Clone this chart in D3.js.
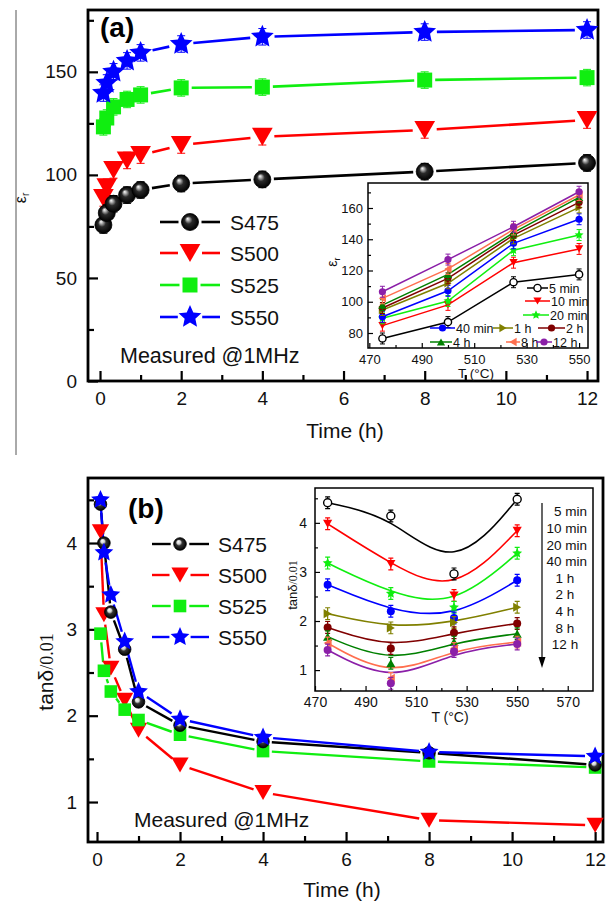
<!DOCTYPE html>
<html><head><meta charset="utf-8">
<script src="https://cdn.jsdelivr.net/npm/d3@7/dist/d3.min.js"></script>
<style>body{margin:0;background:#fff}svg{display:block}</style>
</head><body><svg id="c" width="612" height="901"></svg>
<script>
// ---------------- DATA ----------------
const timesH = [5/60, 10/60, 20/60, 40/60, 1, 2, 4, 8, 12];
const sampleNames = ["S475", "S500", "S525", "S550"];
const epsS475 = [75.7, 81.5, 86.0, 90.2, 92.7, 95.8, 97.8, 101.6, 105.8];
const epsS500 = [88.8, 94.0, 102.4, 107.0, 109.6, 114.5, 118.5, 121.8, 126.6];
const epsS525 = [123.3, 127.6, 133.0, 136.6, 138.8, 142.2, 142.6, 146.0, 147.2];
const epsS550 = [139.7, 144.6, 150.0, 155.3, 159.2, 163.5, 167.0, 169.3, 170.3];
const tanS475 = [4.45, 4.00, 3.20, 2.77, 2.16, 1.89, 1.70, 1.57, 1.43];
const tanS500 = [4.13, 3.17, 2.55, 2.18, 1.83, 1.43, 1.11, 0.79, 0.73];
const tanS525 = [2.95, 2.52, 2.28, 2.07, 1.95, 1.78, 1.59, 1.47, 1.40];
const tanS550 = [4.50, 3.89, 3.40, 2.86, 2.28, 1.96, 1.75, 1.58, 1.53];
const tempsC = [475, 500, 525, 550];
const durLabels = ["5 min", "10 min", "20 min", "40 min", "1 h", "2 h", "4 h", "8 h", "12 h"];
const eps5min = [76.5, 87.0, 112.5, 117.5];
const eps10min = [84.7, 98.0, 125.0, 133.8];
const eps20min = [89.4, 100.5, 133.0, 142.7];
const eps40min = [90.4, 107.0, 137.4, 152.8];
const eps1h = [94.7, 111.8, 140.6, 160.4];
const eps2h = [96.0, 115.0, 142.7, 163.6];
const eps4h = [97.8, 117.5, 144.2, 166.8];
const eps8h = [102.2, 121.0, 146.3, 168.3];
const eps12h = [106.4, 127.0, 148.0, 170.4];
const tan5min = [4.41, 4.14, 2.96, 4.48];
const tan10min = [3.98, 3.16, 2.52, 3.84];
const tan20min = [3.18, 2.56, 2.28, 3.38];
const tan40min = [2.74, 2.20, 2.06, 2.83];
const tan1h = [2.15, 1.86, 1.97, 2.28];
const tan2h = [1.87, 1.44, 1.76, 1.95];
const tan4h = [1.68, 1.14, 1.57, 1.74];
const tan8h = [1.55, 0.83, 1.44, 1.57];
const tan12h = [1.41, 0.73, 1.38, 1.53];
const epsErr = 4, insetEpsErr = 3.5, insetTanErr = 0.12;
const timeTicks = [0, 2, 4, 6, 8, 10, 12];
const epsTicks = [0, 50, 100, 150];
const tanTicks = [1, 2, 3, 4];
const insetEpsTicks = [80, 100, 120, 140, 160];
const insetATTicks = [470, 490, 510, 530, 550];
const insetBTTicks = [470, 490, 510, 530, 550, 570];

// ---------------- STYLE ----------------
const FONT = "'Liberation Sans', Arial, sans-serif";
const SERIF = "'Liberation Serif', 'Times New Roman', serif";
const mainColors = ["#000000", "#ff0000", "#10ee10", "#0000ff"];
const mainShapes = ["ball", "down", "square", "star"];
const insetColors = ["#000000", "#ff0000", "#10ee10", "#0000ff", "#808000", "#800000", "#008000", "#ff6f4f", "#8b1fa8"];
const insetShapes = ["open", "down", "star", "circle", "right", "circle", "up", "left", "circle"];
const drawOrder = [1, 2, 0, 3];

const svg = d3.select("#c");
const defs = svg.append("defs");
function ballGrad(id, stops) {
  const g = defs.append("radialGradient").attr("id", id).attr("cx", 0.5).attr("cy", 0.5).attr("r", 0.5).attr("fx", 0.35).attr("fy", 0.3);
  stops.forEach(s => g.append("stop").attr("offset", s[0]).attr("stop-color", s[1]));
}
ballGrad("ballA", [[0, "#ffffff"], [0.18, "#b0b0b0"], [0.45, "#2a2a2a"], [1, "#000"]]);
ballGrad("ballB", [[0, "#ffffff"], [0.3, "#d0d0d0"], [0.5, "#333"], [1, "#000"]]);

function starPath(R, ri) {
  const p = [];
  for (let k = 0; k < 10; k++) {
    const a = -Math.PI / 2 + k * Math.PI / 5, r = k % 2 === 0 ? R : ri;
    p.push((r * Math.cos(a)).toFixed(2) + "," + (r * Math.sin(a)).toFixed(2));
  }
  return "M" + p.join("L") + "Z";
}
function shapePath(type, s) {
  const w = s * 1.15, h = s;
  switch (type) {
    case "ball": case "circle": case "open":
      return `M${s},0A${s},${s} 0 1,1 ${-s},0A${s},${s} 0 1,1 ${s},0Z`;
    case "square": return `M${-s},${-s}H${s}V${s}H${-s}Z`;
    case "down": return `M${-w},${-h}L${w},${-h}L0,${h}Z`;
    case "up": return `M${-w},${h}L${w},${h}L0,${-h}Z`;
    case "right": return `M${-h},${-w}L${-h},${w}L${h},0Z`;
    case "left": return `M${h},${-w}L${h},${w}L${-h},0Z`;
    case "star": return starPath(s * 1.3, s * 1.3 * 0.47);
  }
}
function drawMarker(g, type, color, x, y, s, ballId) {
  const p = g.append("path").attr("d", shapePath(type, s)).attr("transform", `translate(${x},${y})`);
  if (type === "ball") p.attr("fill", `url(#${ballId})`).attr("stroke", "#000").attr("stroke-width", 0.8);
  else if (type === "open") p.attr("fill", "#fff").attr("stroke", color).attr("stroke-width", 1.4);
  else p.attr("fill", color);
  return p;
}
function gapped(g, pts, gap, color, width) {
  for (let i = 0; i < pts.length - 1; i++) {
    const [x0, y0] = pts[i], [x1, y1] = pts[i + 1];
    const dx = x1 - x0, dy = y1 - y0, L = Math.hypot(dx, dy);
    if (L <= 2 * gap) continue;
    const ux = dx / L, uy = dy / L;
    g.append("line").attr("x1", x0 + ux * gap).attr("y1", y0 + uy * gap)
      .attr("x2", x1 - ux * gap).attr("y2", y1 - uy * gap)
      .attr("stroke", color).attr("stroke-width", width);
  }
}
function axes(g, x, y, c) {
  const b = y.range()[0], l = x.range()[0];
  const list = [];
  list.push(g.append("g").attr("transform", `translate(0,${b})`)
    .call(d3.axisBottom(x).tickValues(c.xMajor).tickSize(-c.maj).tickPadding(c.xPad).tickFormat(d3.format("d"))));
  list.push(g.append("g").attr("transform", `translate(0,${b})`)
    .call(d3.axisBottom(x).tickValues(c.xMinor).tickSize(-c.min).tickFormat("")));
  list.push(g.append("g").attr("transform", `translate(${l},0)`)
    .call(d3.axisLeft(y).tickValues(c.yMajor).tickSize(-c.maj).tickPadding(c.yPad).tickFormat(d3.format("d"))));
  list.push(g.append("g").attr("transform", `translate(${l},0)`)
    .call(d3.axisLeft(y).tickValues(c.yMinor).tickSize(-c.min).tickFormat("")));
  list.forEach(a => {
    a.select(".domain").remove();
    a.selectAll("line").attr("stroke", "#000").attr("stroke-width", c.tw);
    a.selectAll("text").attr("font-size", c.fs).attr("font-family", FONT).attr("fill", "#111");
  });
  g.append("rect").attr("x", l).attr("y", y.range()[1])
    .attr("width", x.range()[1] - l).attr("height", b - y.range()[1])
    .attr("fill", "none").attr("stroke", "#000").attr("stroke-width", c.fw);
}
function frameBg(g, x, y) {
  g.append("rect").attr("x", x.range()[0]).attr("y", y.range()[1])
    .attr("width", x.range()[1] - x.range()[0]).attr("height", y.range()[0] - y.range()[1]).attr("fill", "#fff");
}

// page border line
svg.append("line").attr("x1", 16).attr("x2", 16).attr("y1", 10).attr("y2", 455).attr("stroke", "#555").attr("stroke-width", 1);

// ---------------- PANEL A ----------------
const ax = d3.scaleLinear().domain([-0.296, 12.27]).range([88, 598]);
const ay = d3.scaleLinear().domain([0, 180]).range([381, 10]);
const gA = svg.append("g");
axes(gA, ax, ay, {xMajor: timeTicks, xMinor: [1, 3, 5, 7, 9, 11], yMajor: epsTicks, yMinor: [25, 75, 125, 175],
  maj: 10, min: 6, xPad: 11, yPad: 11, fs: 19, tw: 2.2, fw: 2.8});
const epsSeries = [epsS475, epsS500, epsS525, epsS550];
const sizeA = [8.5, 9, 7.5, 9.2];
drawOrder.forEach(i => {
  const pts = timesH.map((t, k) => [ax(t), ay(epsSeries[i][k])]);
  gapped(gA, pts, sizeA[i] + 3, mainColors[i], 2.6);
});
drawOrder.forEach(i => {
  timesH.forEach((t, k) => {
    const v = epsSeries[i][k], X = ax(t);
    gA.append("path").attr("d", `M${X - 4},${ay(v + epsErr)}H${X + 4}M${X},${ay(v + epsErr)}V${ay(v - epsErr)}M${X - 4},${ay(v - epsErr)}H${X + 4}`)
      .attr("stroke", mainColors[i]).attr("stroke-width", 1).attr("fill", "none");
  });
  timesH.forEach((t, k) => drawMarker(gA, mainShapes[i], mainColors[i], ax(t), ay(epsSeries[i][k]), sizeA[i], "ballA"));
});
gA.append("text").attr("x", 100).attr("y", 37).attr("font-family", FONT).attr("font-weight", "bold").attr("font-size", 28).text("(a)");
const legAY = [222, 253, 285, 317];
sampleNames.forEach((n, i) => {
  const y = legAY[i], g = sizeA[i] + 3;
  gA.append("line").attr("x1", 160).attr("x2", 190 - g).attr("y1", y).attr("y2", y).attr("stroke", mainColors[i]).attr("stroke-width", 2.6);
  gA.append("line").attr("x1", 190 + g).attr("x2", 220).attr("y1", y).attr("y2", y).attr("stroke", mainColors[i]).attr("stroke-width", 2.6);
  drawMarker(gA, mainShapes[i], mainColors[i], 190, y, sizeA[i], "ballA");
  gA.append("text").attr("x", 230).attr("y", y + 7.5).attr("font-family", FONT).attr("font-size", 21).attr("fill", "#111").text(n);
});
gA.append("text").attr("x", 120).attr("y", 363).attr("font-family", FONT).attr("font-size", 21.5).attr("fill", "#111").text("Measured @1MHz");
gA.append("text").attr("x", 345).attr("y", 438).attr("text-anchor", "middle").attr("font-family", FONT).attr("font-size", 21).attr("fill", "#111").text("Time (h)");
const epsLab = gA.append("text").attr("transform", "translate(26,198) rotate(-90)").attr("text-anchor", "middle").attr("font-family", FONT).attr("font-size", 16).attr("fill", "#111");
epsLab.append("tspan").text("ε");
epsLab.append("tspan").attr("font-size", 10).attr("dy", 3).text("r");

// ---------------- INSET A ----------------
const iax = d3.scaleLinear().domain([469.5, 553.4]).range([368, 588]);
const iay = d3.scaleLinear().domain([70.4, 176]).range([348, 183]);
const gIA = svg.append("g");
frameBg(gIA, iax, iay);
axes(gIA, iax, iay, {xMajor: insetATTicks, xMinor: [480, 500, 520, 540], yMajor: insetEpsTicks, yMinor: [90, 110, 130, 150, 170],
  maj: 5, min: 3, xPad: 7, yPad: 5, fs: 13, tw: 1.2, fw: 1.5});
const epsByDur = [eps5min, eps10min, eps20min, eps40min, eps1h, eps2h, eps4h, eps8h, eps12h];
const lineGen = (xs, ys) => d3.line().x((d, k) => xs(tempsC[k])).y(d => ys(d));
epsByDur.forEach((arr, i) => {
  gIA.append("path").attr("d", lineGen(iax, iay)(arr)).attr("fill", "none").attr("stroke", insetColors[i]).attr("stroke-width", 1.5);
});
epsByDur.forEach((arr, i) => {
  arr.forEach((v, k) => {
    const X = iax(tempsC[k]);
    gIA.append("path").attr("d", `M${X - 2.5},${iay(v + insetEpsErr)}H${X + 2.5}M${X},${iay(v + insetEpsErr)}V${iay(v - insetEpsErr)}M${X - 2.5},${iay(v - insetEpsErr)}H${X + 2.5}`)
      .attr("stroke", insetColors[i]).attr("stroke-width", 1).attr("fill", "none");
    drawMarker(gIA, insetShapes[i], insetColors[i], X, iay(v), 3.6);
  });
});
const legIA = [[527, 548, 288], [525, 550, 301], [523, 549, 315], [430, 455, 328], [493, 513, 328], [538, 565, 328], [430, 452, 342], [506, 520, 342], [536, 552, 342]];
durLabels.forEach((lab, i) => {
  const [x0, x1, y] = legIA[i];
  gIA.append("line").attr("x1", x0).attr("x2", x1).attr("y1", y).attr("y2", y).attr("stroke", insetColors[i]).attr("stroke-width", 1.5);
  drawMarker(gIA, insetShapes[i], insetColors[i], (x0 + x1) / 2, y, 3.6);
  gIA.append("text").attr("x", x1 + 1).attr("y", y + 4.5).attr("font-family", FONT).attr("font-size", 12.5).attr("fill", "#111").text(lab);
});
gIA.append("text").attr("x", 476).attr("y", 378).attr("text-anchor", "middle").attr("font-family", FONT).attr("font-size", 13.5).attr("fill", "#111").text("T (°C)");
const iaLab = gIA.append("text").attr("transform", "translate(337,262) rotate(-90)").attr("text-anchor", "middle").attr("font-family", FONT).attr("font-size", 14).attr("fill", "#111");
iaLab.append("tspan").text("ε");
iaLab.append("tspan").attr("font-size", 9).attr("dy", 3).text("r");

// ---------------- PANEL B ----------------
const bx = d3.scaleLinear().domain([-0.217, 12.19]).range([88, 603]);
const by = d3.scaleLinear().domain([0.537, 4.753]).range([842, 478]);
const gB = svg.append("g");
axes(gB, bx, by, {xMajor: timeTicks, xMinor: [1, 3, 5, 7, 9, 11], yMajor: tanTicks, yMinor: [1.5, 2.5, 3.5, 4.5],
  maj: 10, min: 6, xPad: 11, yPad: 11, fs: 19, tw: 2.2, fw: 2.8});
const tanSeries = [tanS475, tanS500, tanS525, tanS550];
const sizeB = [6.3, 7.5, 6.3, 7.6];
drawOrder.forEach(i => {
  const pts = timesH.map((t, k) => [bx(t), by(tanSeries[i][k])]);
  gapped(gB, pts, sizeB[i] + 2.5, mainColors[i], 2.4);
});
drawOrder.forEach(i => {
  timesH.forEach((t, k) => drawMarker(gB, mainShapes[i], mainColors[i], bx(t), by(tanSeries[i][k]), sizeB[i], "ballB"));
});
gB.append("text").attr("x", 128).attr("y", 518).attr("font-family", FONT).attr("font-weight", "bold").attr("font-size", 28).text("(b)");
const legBY = [544, 575, 606, 637];
sampleNames.forEach((n, i) => {
  const y = legBY[i], g = sizeB[i] + 3;
  gB.append("line").attr("x1", 152).attr("x2", 180 - g).attr("y1", y).attr("y2", y).attr("stroke", mainColors[i]).attr("stroke-width", 2.4);
  gB.append("line").attr("x1", 180 + g).attr("x2", 209).attr("y1", y).attr("y2", y).attr("stroke", mainColors[i]).attr("stroke-width", 2.4);
  drawMarker(gB, mainShapes[i], mainColors[i], 180, y, sizeB[i], "ballB");
  gB.append("text").attr("x", 218).attr("y", y + 7.5).attr("font-family", FONT).attr("font-size", 21).attr("fill", "#111").text(n);
});
gB.append("text").attr("x", 134).attr("y", 827).attr("font-family", FONT).attr("font-size", 21).attr("fill", "#111").text("Measured @1MHz");
gB.append("text").attr("x", 342).attr("y", 897).attr("text-anchor", "middle").attr("font-family", FONT).attr("font-size", 21).attr("fill", "#111").text("Time (h)");
const tanLab = gB.append("text").attr("transform", "translate(53,672) rotate(-90)").attr("text-anchor", "middle").attr("font-family", FONT).attr("font-size", 21).attr("fill", "#111");
tanLab.append("tspan").text("tanδ");
tanLab.append("tspan").attr("font-family", SERIF).attr("font-size", 18).text("/0.01");

// ---------------- INSET B ----------------
const ibx = d3.scaleLinear().domain([470, 580]).range([315, 593]);
const iby = d3.scaleLinear().domain([0.574, 4.71]).range([691, 488]);
const gIB = svg.append("g");
frameBg(gIB, ibx, iby);
axes(gIB, ibx, iby, {xMajor: insetBTTicks, xMinor: [480, 500, 520, 540, 560], yMajor: tanTicks, yMinor: [1.5, 2.5, 3.5, 4.5],
  maj: 5, min: 3, xPad: 6, yPad: 8, fs: 14, tw: 1.2, fw: 1.5});
const tanByDur = [tan5min, tan10min, tan20min, tan40min, tan1h, tan2h, tan4h, tan8h, tan12h];
tanByDur.forEach((arr, i) => {
  gIB.append("path").attr("d", lineGen(ibx, iby).curve(d3.curveBasis)(arr)).attr("fill", "none").attr("stroke", insetColors[i]).attr("stroke-width", 1.6);
});
tanByDur.forEach((arr, i) => {
  arr.forEach((v, k) => {
    const X = ibx(tempsC[k]);
    gIB.append("path").attr("d", `M${X - 2.5},${iby(v + insetTanErr)}H${X + 2.5}M${X},${iby(v + insetTanErr)}V${iby(v - insetTanErr)}M${X - 2.5},${iby(v - insetTanErr)}H${X + 2.5}`)
      .attr("stroke", insetColors[i]).attr("stroke-width", 1.2).attr("fill", "none");
    drawMarker(gIB, insetShapes[i], insetColors[i], X, iby(v), 4);
  });
});
gIB.append("line").attr("x1", 542).attr("x2", 542).attr("y1", 503).attr("y2", 660).attr("stroke", "#000").attr("stroke-width", 1.2);
gIB.append("path").attr("d", "M538.5,657L545.5,657L542,668Z").attr("fill", "#000");
const legIBY = [511, 528, 545, 561, 578, 594, 611, 628, 644];
durLabels.forEach((lab, i) => {
  const isMin = lab.indexOf("min") >= 0;
  gIB.append("text").attr("x", isMin ? 587 : 565).attr("y", legIBY[i] + 5)
    .attr("text-anchor", isMin ? "end" : "middle").attr("font-family", FONT).attr("font-size", 13.5).attr("fill", "#111").text(lab);
});
gIB.append("text").attr("x", 450).attr("y", 722).attr("text-anchor", "middle").attr("font-family", FONT).attr("font-size", 14).attr("fill", "#111").text("T (°C)");
const ibLab = gIB.append("text").attr("transform", "translate(297,585) rotate(-90)").attr("text-anchor", "middle").attr("font-family", FONT).attr("font-size", 13).attr("fill", "#111");
ibLab.append("tspan").text("tanδ");
ibLab.append("tspan").attr("font-family", SERIF).attr("font-size", 12).text("/0.01");
</script></body></html>
